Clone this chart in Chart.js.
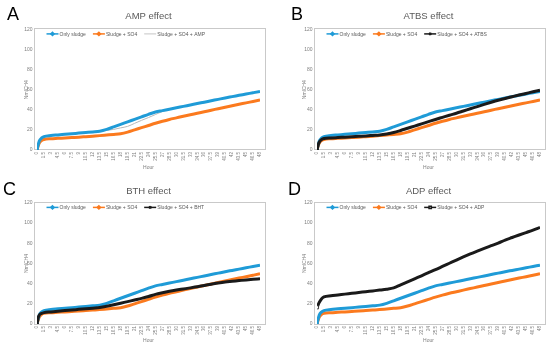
<!DOCTYPE html>
<html>
<head>
<meta charset="utf-8">
<script src="https://cdn.jsdelivr.net/npm/chart.js@4.4.1/dist/chart.umd.min.js"></script>
<style>
  body { margin: 0; background: #fff; }
  #wrap { position: relative; width: 550px; height: 351px; overflow: hidden; }
  canvas { position: absolute; }
  .letter { position: absolute; font: 18px "Liberation Sans", Arial, sans-serif; line-height: 18px; color: #000; }
</style>
</head>
<body>
<div id="wrap">
  <canvas id="chartA" width="275" height="175" style="left:0;top:0"></canvas>
  <canvas id="chartB" width="275" height="175" style="left:275px;top:0"></canvas>
  <canvas id="chartC" width="275" height="176" style="left:0;top:175px"></canvas>
  <canvas id="chartD" width="275" height="176" style="left:275px;top:175px"></canvas>
  <div class="letter" style="left:7px;top:5px">A</div>
  <div class="letter" style="left:291px;top:5px">B</div>
  <div class="letter" style="left:3px;top:180px">C</div>
  <div class="letter" style="left:288px;top:180px">D</div>
</div>
<script>
// sampling times (h) and the tick labels of the hour axis
const hours = [0, 0.25, 0.5, 1, 1.5, 3, 4.5, 6, 7.5, 9, 10.5, 12, 13.5, 15, 16.5, 18, 19.5, 21,
  22.5, 24, 25.5, 27, 28.5, 30, 31.5, 33, 34.5, 36, 37.5, 39, 40.5, 42, 43.5, 45, 46.5, 48];
const hourTicks = [0, 1.5, 3, 4.5, 6, 7.5, 9, 10.5, 12, 13.5, 15, 16.5, 18, 19.5, 21, 22.5, 24,
  25.5, 27, 28.5, 30, 31.5, 33, 34.5, 36, 37.5, 39, 40.5, 42, 43.5, 45, 46.5, 48];
const yTicks = [0, 20, 40, 60, 80, 100, 120];

const onlySludge = [0, 5, 9, 12, 13.3, 14.4, 15, 15.6, 16.2, 16.8, 17.4, 18, 18.7, 20.5, 23, 25.5,
  28, 30.5, 33, 35.5, 37.8, 39.2, 40.6, 42, 43.4, 44.8, 46.2, 47.6, 49, 50.4, 51.8, 53.1, 54.4,
  55.7, 57, 58.3];
const sludgeSO4 = [0, 4, 7, 9.5, 10.5, 11.2, 11.6, 12, 12.4, 12.8, 13.3, 13.8, 14.3, 14.9, 15.5,
  16.2, 17.8, 20, 22.2, 24.4, 26.6, 28.6, 30.4, 32, 33.6, 35.1, 36.6, 38.1, 39.6, 41.1, 42.6,
  44.1, 45.5, 46.9, 48.3, 49.7];
const withAMP = [0, 5, 9, 12, 13.3, 14.4, 15, 15.6, 16.2, 16.8, 17.4, 18, 18.5, 19.5, 20.5, 22,
  23.5, 26.5, 29.5, 32.3, 35.3, 38.3, 40.5, 42, 43.4, 44.8, 46.2, 47.6, 49, 50.4, 51.8, 53.1,
  54.4, 55.7, 57, 58.3];
const withATBS = [0, 5, 8, 10.5, 11.5, 12, 12.4, 12.8, 13.2, 13.6, 14, 14.5, 15, 16, 17.4, 19.4,
  21.6, 23.8, 26, 28.2, 30.4, 32.5, 34.6, 36.6, 38.8, 41, 43.2, 45.4, 47.5, 49.5, 51.3, 53, 54.7,
  56.3, 57.9, 59.4];
const withBHT = [0, 6, 9, 10.5, 11.3, 12, 12.7, 13.3, 13.9, 14.5, 15.1, 15.7, 16.3, 17.5, 19,
  20.6, 22.2, 23.8, 25.4, 27.2, 29.4, 31, 32.4, 33.6, 34.7, 35.8, 37, 38.2, 39.4, 40.6, 41.6,
  42.3, 43, 43.7, 44.3, 44.8];
const withADP = [16.5, 19, 21.5, 25, 26.8, 28, 28.8, 29.6, 30.4, 31.2, 32, 32.8, 33.6, 34.5,
  35.8, 38.8, 41.8, 44.8, 47.8, 50.8, 53.8, 57, 60.2, 63.4, 66.5, 69.5, 72.3, 75, 77.6, 80.2,
  83.2, 85.7, 88.2, 90.6, 93, 95.7];

const BLUE = "#1f9bd7";
const ORANGE = "#fb7a1e";
const BLACK = "#1a1a1a";
const FONT = "'Liberation Sans', Arial, sans-serif";

// gray frame round the plot area
const plotBox = {
  id: "plotBox",
  beforeDatasetsDraw(chart) {
    const { ctx, chartArea: a } = chart;
    ctx.save();
    ctx.strokeStyle = "#c9c9c9";
    ctx.lineWidth = 1;
    ctx.strokeRect(Math.round(a.left - 3.5) + 0.5, Math.round(a.top - 1) + 0.5,
      Math.round(a.right - a.left + 7.5), Math.round(a.bottom - a.top + 0.5));
    ctx.restore();
  },
};

// Excel-like legend inside the plot area
const insideLegend = {
  id: "insideLegend",
  afterDatasetsDraw(chart) {
    const { ctx, chartArea } = chart;
    let x = chartArea.left + 9.5;
    const y = chartArea.top + 4.5;
    ctx.save();
    ctx.font = "5px " + FONT;
    ctx.textBaseline = "middle";
    chart.data.datasets.forEach((ds) => {
      ctx.strokeStyle = ds.borderColor;
      ctx.lineWidth = ds.borderWidth > 2 ? 1.5 : 0.8;
      ctx.beginPath();
      ctx.moveTo(x, y);
      ctx.lineTo(x + 12, y);
      ctx.stroke();
      if (ds.borderWidth > 2) {
        ctx.fillStyle = ds.legendMarker === "rect" ? "#fff" : ds.borderColor;
        Chart.helpers.drawPoint(ctx, {
          pointStyle: ds.legendMarker || "rectRot",
          radius: 1.6,
          borderWidth: 0.8,
        }, x + 6, y);
      }
      ctx.fillStyle = "#595959";
      ctx.fillText(ds.label, x + 13, y + 0.3);
      x += 13 + ctx.measureText(ds.label).width + 7;
    });
    ctx.restore();
  },
};

function series(label, data, color, extra) {
  return Object.assign({
    label: label,
    data: data.map((v, i) => ({ x: hours[i], y: v })),
    borderColor: color,
    backgroundColor: color,
    borderWidth: 3,
    pointRadius: (c) => (c.dataIndex === 0 ? 1.8 : 0),
    pointStyle: "rectRot",
    pointBorderWidth: 0.8,
    cubicInterpolationMode: "monotone",
  }, extra || {});
}

function makeChart(id, title, third, geo) {
  new Chart(document.getElementById(id), {
    type: "line",
    data: {
      datasets: [
        series("Only sludge", onlySludge, BLUE),
        series("Sludge + SO4", sludgeSO4, ORANGE),
        third,
      ],
    },
    options: {
      responsive: false,
      animation: false,
      layout: { padding: { right: geo.right, left: 0 } },
      plugins: {
        legend: { display: false },
        tooltip: { enabled: false },
        title: {
          display: true,
          text: title,
          fullSize: false,
          color: "#595959",
          font: { family: FONT, size: 9.5, weight: "normal" },
          padding: { top: geo.titleTop, bottom: geo.titleBottom },
        },
      },
      scales: {
        x: {
          type: "linear",
          min: 0,
          max: 48,
          grid: { display: false, drawTicks: false },
          border: { display: false },
          afterBuildTicks: (s) => { s.ticks = hourTicks.map((v) => ({ value: v })); },
          afterFit: (s) => { s.height = geo.bottom; },
          ticks: {
            autoSkip: false,
            minRotation: 90,
            maxRotation: 90,
            padding: 2,
            color: "#7f7f7f",
            font: { family: FONT, size: 4.5 },
            callback: (v) => String(v),
          },
          title: {
            display: true,
            text: "Hour",
            color: "#7f7f7f",
            font: { family: FONT, size: 5 },
            padding: { top: 0, bottom: geo.hourPad },
          },
        },
        y: {
          min: 0,
          max: 120,
          grid: { display: false, drawTicks: false },
          border: { display: false },
          afterBuildTicks: (s) => { s.ticks = yTicks.map((v) => ({ value: v })); },
          afterFit: (s) => { s.width = geo.left; },
          ticks: {
            padding: 4.5,
            color: "#7f7f7f",
            font: { family: FONT, size: 5 },
          },
          title: {
            display: true,
            text: "NmlCH4",
            color: "#7f7f7f",
            font: { family: FONT, size: 5 },
            padding: { top: geo.nmlPad, bottom: 0 },
          },
        },
      },
    },
    plugins: [plotBox, insideLegend],
  });
}

const topLeft = { left: 37, right: 15, bottom: 25, titleTop: 11, titleBottom: 7, hourPad: 4, nmlPad: 24 };
const topRight = { left: 42, right: 10, bottom: 25, titleTop: 11, titleBottom: 7, hourPad: 4, nmlPad: 27 };
const botLeft = { left: 37, right: 15, bottom: 27, titleTop: 10.5, titleBottom: 6, hourPad: 7, nmlPad: 24 };
const botRight = { left: 42, right: 10, bottom: 27, titleTop: 10.5, titleBottom: 6, hourPad: 7, nmlPad: 27 };

makeChart("chartA", "AMP effect",
  series("Sludge + SO4 + AMP", withAMP, "#b8b8b8", { borderWidth: 1, pointRadius: 0 }), topLeft);
makeChart("chartB", "ATBS effect",
  series("Sludge + SO4 + ATBS", withATBS, BLACK, { order: -1, legendMarker: "crossRot" }), topRight);
makeChart("chartC", "BTH effect",
  series("Sludge + SO4 + BHT", withBHT, BLACK, { order: -1, legendMarker: "crossRot" }), botLeft);
makeChart("chartD", "ADP effect",
  series("Sludge + SO4 + ADP", withADP, BLACK, {
    order: -1,
    legendMarker: "rect",
    pointStyle: "rect",
    pointBackgroundColor: "#fff",
    pointRadius: (c) => (c.dataIndex === 0 ? 2.2 : 0),
  }), botRight);
</script>
</body>
</html>
